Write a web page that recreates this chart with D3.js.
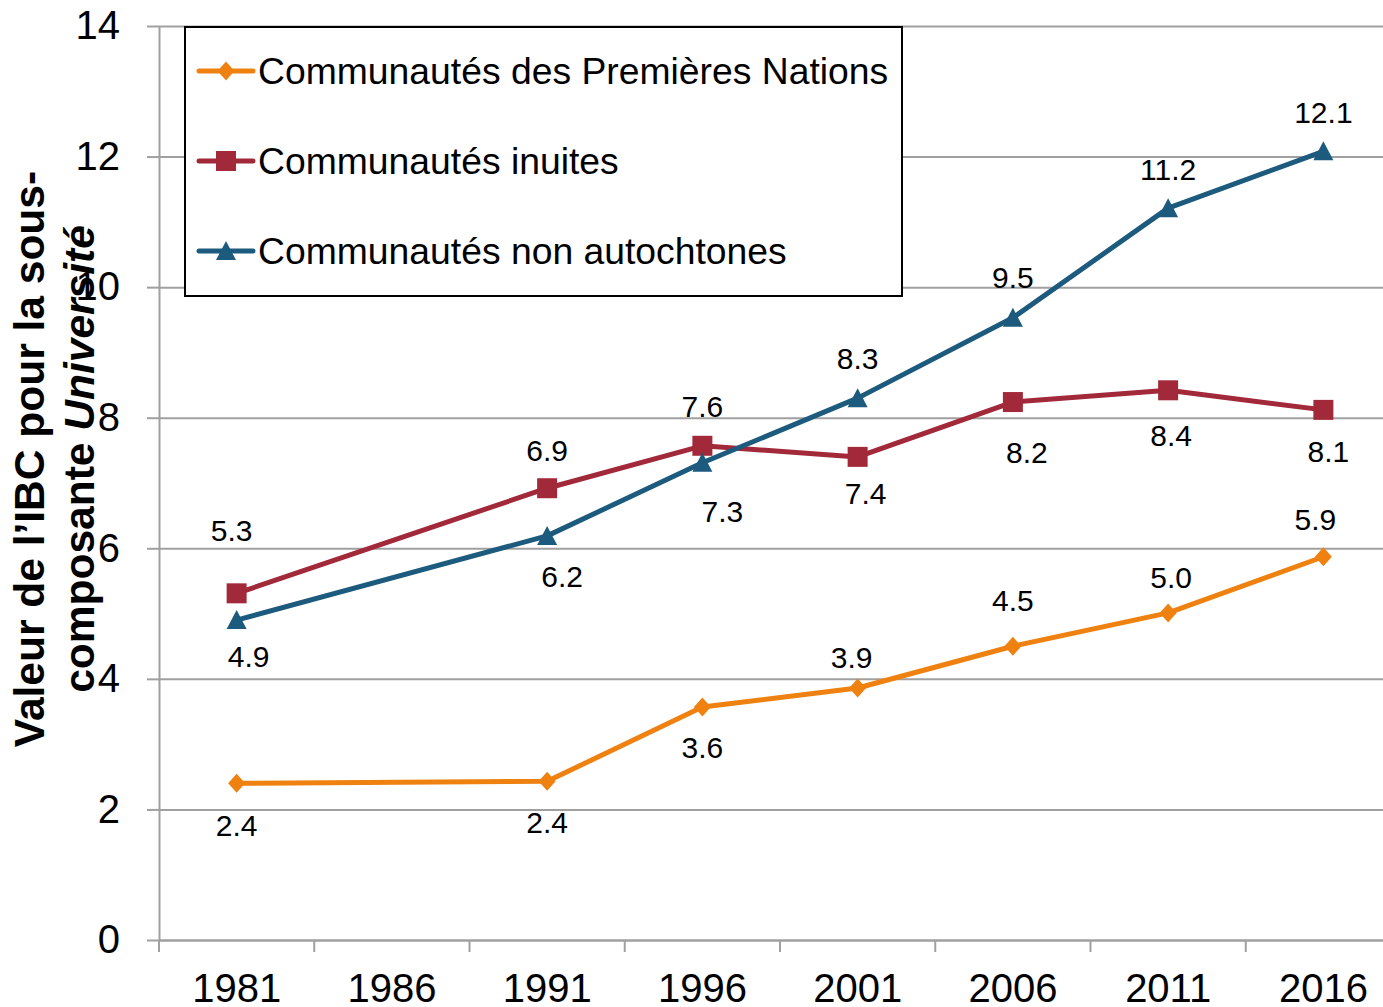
<!DOCTYPE html>
<html>
<head>
<meta charset="utf-8">
<script src="https://cdn.jsdelivr.net/npm/d3@7"></script>
<style>
  body { margin: 0; background: #fff; }
  svg { display: block; font-family: "Liberation Sans", Arial, sans-serif; }
</style>
</head>
<body>
<div id="chart"></div>
<script>
// values (1986 has no data)
const years = ["1981", "1986", "1991", "1996", "2001", "2006", "2011", "2016"];
const premieresNations = [2.40, null, 2.43, 3.57, 3.86, 4.50, 5.01, 5.87];
const inuites = [5.31, null, 6.92, 7.57, 7.40, 8.24, 8.42, 8.12];
const nonAutochtones = [4.90, null, 6.19, 7.31, 8.30, 9.53, 11.21, 12.08];
const seriesNames = ["Communautés des Premières Nations", "Communautés inuites", "Communautés non autochtones"];
const yTicks = [0, 2, 4, 6, 8, 10, 12, 14];

// look of each series
const colors = ["#ef8110", "#a22939", "#1c5a7e"];
const shapes = ["diamond", "square", "triangle"];
// where each value label sits relative to its point (px)
const labelNudge = [
  [[0, 42], null, [0, 41], [0, 41], [-6, -30], [0, -46], [3, -35], [-8, -37]],
  [[-5, -63], null, [0, -38], [0, -39], [8, 37], [14, 50], [3, 45], [5, 42]],
  [[12, 36], null, [15, 41], [20, 49], [0, -40], [0, -40], [0, -39], [0, -39]]
];

const W = 1383, H = 1007;
const margin = { top: 26, left: 159 };
const plotH = 914;
const step = 155.25;
const plotW = step * years.length;

const svg = d3.select("#chart").append("svg")
  .attr("width", W)
  .attr("height", H);

const x = d3.scaleBand().domain(years).range([margin.left, margin.left + plotW]).padding(0);
const y = d3.scaleLinear().domain([0, 14]).range([margin.top + plotH, margin.top]);

function markerPath(shape) {
  if (shape === "diamond") return "M0,-9.5L8.5,0L0,9.5L-8.5,0Z";
  if (shape === "square") return "M-10,-10H10V10H-10Z";
  return "M0,-10L10,9L-10,9Z";
}

// gridlines
svg.append("g")
  .attr("transform", "translate(" + margin.left + ",0)")
  .call(d3.axisLeft(y).tickValues(yTicks).tickSize(-plotW).tickFormat(""))
  .call(g => g.select(".domain").remove())
  .call(g => g.selectAll("line").attr("stroke", "#a0a0a0").attr("stroke-width", 2));

// y axis
svg.append("g")
  .attr("transform", "translate(" + margin.left + ",0)")
  .call(d3.axisLeft(y).tickValues(yTicks).tickSizeInner(12).tickSizeOuter(0).tickPadding(27))
  .call(g => g.select(".domain").attr("stroke", "#a0a0a0").attr("stroke-width", 2))
  .call(g => g.selectAll("line").attr("stroke", "#a0a0a0").attr("stroke-width", 2))
  .call(g => g.selectAll("text").attr("font-size", 40).attr("fill", "#000")
    .attr("font-family", "'Liberation Sans', Arial, sans-serif"));

// x axis: labels at category centres, ticks at category edges
const xAxis = svg.append("g")
  .attr("transform", "translate(0," + (margin.top + plotH) + ")")
  .call(d3.axisBottom(x).tickSize(0).tickPadding(34))
  .call(g => g.select(".domain").attr("stroke", "#a0a0a0").attr("stroke-width", 2))
  .call(g => g.selectAll("text").attr("font-size", 40).attr("fill", "#000")
    .attr("font-family", "'Liberation Sans', Arial, sans-serif"));

xAxis.selectAll(".edge")
  .data(d3.range(years.length + 1))
  .enter().append("line")
  .attr("class", "edge")
  .attr("x1", i => x.range()[0] + i * x.step())
  .attr("x2", i => x.range()[0] + i * x.step())
  .attr("y1", 0)
  .attr("y2", 12)
  .attr("stroke", "#a0a0a0")
  .attr("stroke-width", 2);

// series
const allSeries = [premieresNations, inuites, nonAutochtones];
const line = d3.line()
  .x(d => x(d.year) + x.bandwidth() / 2)
  .y(d => y(d.v));

allSeries.forEach(function (vals, s) {
  const pts = years.map((yr, i) => ({ year: yr, v: vals[i], i: i })).filter(d => d.v != null);
  const g = svg.append("g");

  g.append("path")
    .attr("d", line(pts))
    .attr("fill", "none")
    .attr("stroke", colors[s])
    .attr("stroke-width", 5)
    .attr("stroke-linejoin", "round");

  g.selectAll(".mk")
    .data(pts)
    .enter().append("path")
    .attr("class", "mk")
    .attr("d", markerPath(shapes[s]))
    .attr("transform", d => "translate(" + (x(d.year) + x.bandwidth() / 2) + "," + y(d.v) + ")")
    .attr("fill", colors[s]);
});

// value labels on top
allSeries.forEach(function (vals, s) {
  const pts = years.map((yr, i) => ({ year: yr, v: vals[i], i: i })).filter(d => d.v != null);
  svg.append("g").selectAll("text")
    .data(pts)
    .enter().append("text")
    .attr("x", d => x(d.year) + x.bandwidth() / 2 + labelNudge[s][d.i][0])
    .attr("y", d => y(d.v) + labelNudge[s][d.i][1])
    .attr("dy", "0.35em")
    .attr("text-anchor", "middle")
    .attr("font-size", 30)
    .attr("fill", "#000")
    .text(d => d3.format(".1f")(d.v));
});

// y axis title (two lines, overlapping the tick labels like the original)
const title = svg.append("text")
  .attr("transform", "translate(44,459) rotate(-90)")
  .attr("text-anchor", "middle")
  .attr("font-size", 42.5)
  .attr("font-weight", "bold")
  .attr("fill", "#000");
title.append("tspan").attr("x", 0).attr("y", 0).text("Valeur de l’IBC pour la sous-");
const l2 = title.append("tspan").attr("x", 0).attr("y", 50);
l2.append("tspan").text("composante ");
l2.append("tspan").attr("font-style", "italic").text("Université");

// legend
const legend = svg.append("g");
legend.append("rect")
  .attr("x", 185).attr("y", 27)
  .attr("width", 717).attr("height", 269)
  .attr("fill", "#fff")
  .attr("stroke", "#000")
  .attr("stroke-width", 2);

seriesNames.forEach(function (name, s) {
  const ly = 71 + s * 90;
  legend.append("line")
    .attr("x1", 199).attr("x2", 253)
    .attr("y1", ly).attr("y2", ly)
    .attr("stroke", colors[s])
    .attr("stroke-width", 5)
    .attr("stroke-linecap", "round");
  legend.append("path")
    .attr("d", markerPath(shapes[s]))
    .attr("transform", "translate(226," + ly + ")")
    .attr("fill", colors[s]);
  legend.append("text")
    .attr("x", 258).attr("y", ly)
    .attr("dy", "0.35em")
    .attr("font-size", 37.3)
    .attr("fill", "#000")
    .text(name);
});
</script>
</body>
</html>
